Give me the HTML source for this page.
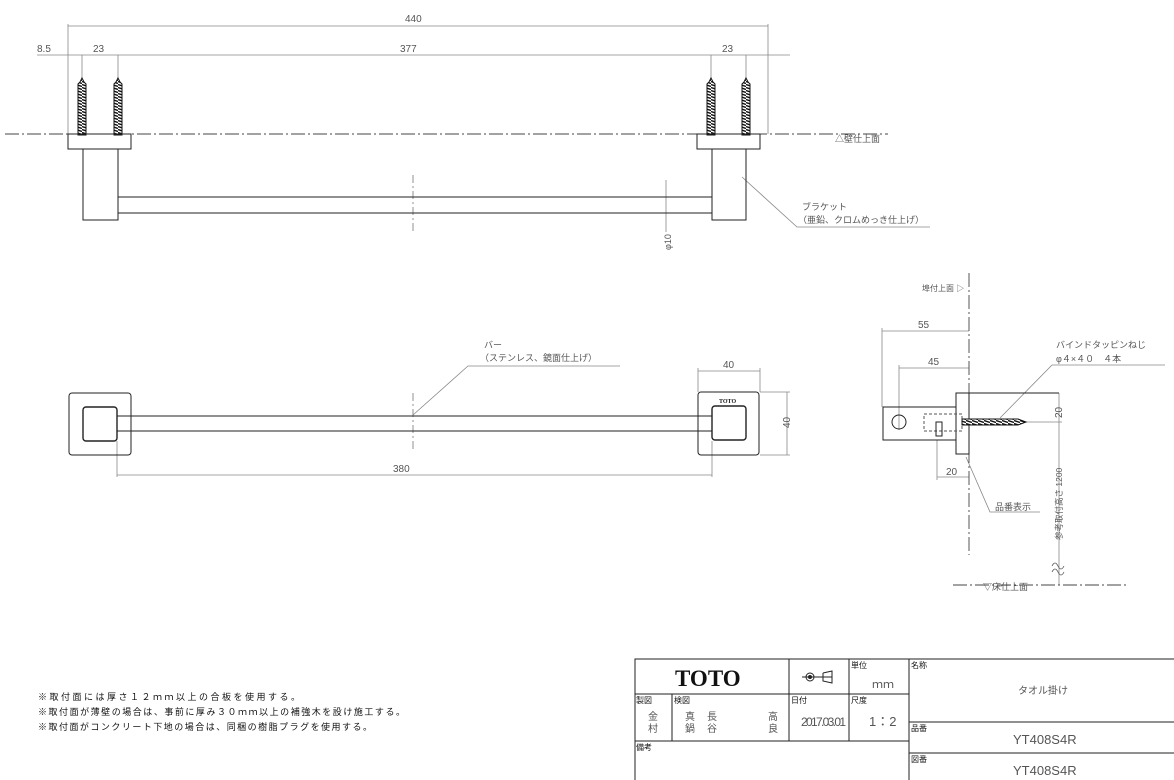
<!DOCTYPE html>
<html><head><meta charset="utf-8"><style>html,body{margin:0;padding:0;background:#fff}svg{display:block}text{font-family:"Liberation Sans","Noto Sans CJK JP",sans-serif;fill:#555}text.serif{font-family:"Liberation Serif",serif}</style></head><body>
<svg width="1174" height="780" viewBox="0 0 1174 780" xmlns="http://www.w3.org/2000/svg">
<defs>
<pattern id="thr" width="6" height="3" patternUnits="userSpaceOnUse"><rect width="6" height="3" fill="#fff"/><line x1="0" y1="0.5" x2="6" y2="2.5" stroke="#111" stroke-width="1.4"/></pattern>
<g id="screwV"><polygon points="0,0 -2,4 -4,6 -4,57 4,57 4,6 2,4" fill="url(#thr)" stroke="#111" stroke-width="1"/></g>
</defs>
<g fill="none" stroke="#888" stroke-width="0.8">
<line x1="68" y1="26" x2="768" y2="26"/><line x1="68" y1="24" x2="68" y2="134"/><line x1="768" y1="24" x2="768" y2="134"/>
<line x1="37" y1="55" x2="790" y2="55"/>
<line x1="82" y1="55" x2="82" y2="80"/><line x1="118" y1="55" x2="118" y2="80"/>
<line x1="711" y1="55" x2="711" y2="80"/><line x1="746" y1="55" x2="746" y2="80"/>
<line x1="666" y1="180" x2="666" y2="232"/>
<line x1="117" y1="475" x2="712" y2="475"/><line x1="117" y1="441" x2="117" y2="477"/><line x1="712" y1="441" x2="712" y2="477"/>
<line x1="698" y1="371" x2="760" y2="371"/><line x1="698" y1="368" x2="698" y2="392"/><line x1="760" y1="368" x2="760" y2="392"/>
<line x1="760" y1="392" x2="790" y2="392"/><line x1="760" y1="455" x2="790" y2="455"/><line x1="787" y1="392" x2="787" y2="455"/>
<polyline points="742,177 797,227 930,227"/>
<polyline points="413,415 468,366 620,366"/>
<line x1="882" y1="331" x2="969" y2="331"/><line x1="882" y1="328" x2="882" y2="407"/>
<line x1="899" y1="368" x2="969" y2="368"/><line x1="899" y1="365" x2="899" y2="430"/>
<line x1="937" y1="477" x2="969" y2="477"/><line x1="937" y1="440" x2="937" y2="480"/>
<line x1="1059" y1="393" x2="1059" y2="585"/><line x1="1025" y1="422" x2="1062" y2="422"/>
<polyline points="1000,418 1052,365 1165,365"/>
<polyline points="966,457 990,512 1040,512"/>
<path d="M1052,566 q3,-6 6,0 t6,0 M1052,572 q3,-6 6,0 t6,0" stroke="#555"/>
</g>
<g fill="#666" font-size="10">
<text x="405" y="22">440</text><text x="37" y="52">8.5</text><text x="93" y="52">23</text><text x="400" y="52">377</text><text x="722" y="52">23</text>
<text x="835" y="142" font-size="9">△壁仕上面</text>
<text x="802" y="210" font-size="9">ブラケット</text><text x="798" y="223" font-size="9">（亜鉛、クロムめっき仕上げ）</text>
<text x="671" y="250" font-size="9" transform="rotate(-90 671 250)">φ10</text>
<text x="484" y="348" font-size="9">バー</text><text x="480" y="361" font-size="9">（ステンレス、鏡面仕上げ）</text>
<text x="393" y="472">380</text><text x="723" y="368">40</text>
<text x="790" y="428" transform="rotate(-90 790 428)">40</text>
<text x="922" y="291" font-size="8">埠付上面 ▷</text>
<text x="918" y="328">55</text><text x="928" y="365">45</text><text x="946" y="475">20</text>
<text x="1056" y="348" font-size="9">バインドタッピンねじ</text>
<text x="1056" y="362" font-size="9">φ４×４０　４本</text>
<text x="995" y="510" font-size="9">品番表示</text>
<text x="1062" y="418" transform="rotate(-90 1062 418)">20</text>
<text x="1062" y="540" font-size="8.5" transform="rotate(-90 1062 540)">参考取付高さ 1200</text>
<text x="983" y="590" font-size="9">▽床仕上面</text>
</g>
<g stroke="#444" stroke-width="0.9" fill="none" stroke-dasharray="14,3,2,3">
<line x1="5" y1="134" x2="888" y2="134"/>
<line x1="969" y1="273" x2="969" y2="555"/>
<line x1="953" y1="585" x2="1128" y2="585"/>
</g>
<g stroke="#777" stroke-width="0.8" stroke-dasharray="8,3,2,3">
<line x1="413" y1="175" x2="413" y2="232"/><line x1="413" y1="393" x2="413" y2="452"/>
</g>
<use href="#screwV" x="82" y="78"/><use href="#screwV" x="118" y="78"/>
<use href="#screwV" x="711" y="78"/><use href="#screwV" x="746" y="78"/>
<g fill="none" stroke="#222" stroke-width="1">
<rect x="68" y="134" width="63" height="15"/><rect x="83" y="149" width="35" height="71"/>
<rect x="697" y="134" width="63" height="15"/><rect x="712" y="149" width="34" height="71"/>
<line x1="118" y1="197" x2="712" y2="197"/><line x1="118" y1="213" x2="712" y2="213"/>
<rect x="69" y="393" width="62" height="62" rx="3"/><rect x="83" y="407" width="34" height="34" rx="3" stroke-width="1.4"/>
<rect x="698" y="392" width="61" height="63" rx="3"/><rect x="712" y="406" width="34" height="34" rx="3" stroke-width="1.4"/>
<line x1="117" y1="416" x2="712" y2="416"/><line x1="117" y1="431" x2="712" y2="431"/>
<rect x="956" y="393" width="13" height="61"/><line x1="969" y1="393" x2="1059" y2="393"/>
<rect x="883" y="407" width="73" height="33"/>
<circle cx="899" cy="422" r="7"/>
<rect x="924" y="414" width="38" height="17" stroke-dasharray="3,2" stroke="#555"/>
<rect x="936" y="422" width="6" height="14"/>
</g>
<polygon points="962,419 1018,419 1026,422 1018,425 962,425" fill="url(#thr)" stroke="#111" stroke-width="1"/>
<text class="serif" x="719" y="403" font-size="6" font-weight="bold" style="fill:#222">TOTO</text>
<g font-size="9" fill="#111">
<text x="38" y="700" textLength="262" style="fill:#111">※取付面には厚さ１２ｍｍ以上の合板を使用する。</text>
<text x="38" y="715" textLength="367" style="fill:#111">※取付面が薄壁の場合は、事前に厚み３０ｍｍ以上の補強木を設け施工する。</text>
<text x="38" y="730" textLength="334" style="fill:#111">※取付面がコンクリート下地の場合は、同梱の樹脂プラグを使用する。</text>
</g>
<g fill="none" stroke="#222" stroke-width="1">
<rect x="635" y="659" width="545" height="125"/>
<line x1="635" y1="694" x2="909" y2="694"/><line x1="635" y1="741" x2="909" y2="741"/>
<line x1="789" y1="659" x2="789" y2="741"/><line x1="849" y1="659" x2="849" y2="741"/><line x1="909" y1="659" x2="909" y2="780"/>
<line x1="672" y1="694" x2="672" y2="741"/>
<line x1="909" y1="722" x2="1174" y2="722"/><line x1="909" y1="753" x2="1174" y2="753"/>
<circle cx="810" cy="677" r="4"/><circle cx="810" cy="677" r="1.5" fill="#222"/>
<line x1="802" y1="677" x2="832" y2="677"/><polyline points="823,673 832,671 832,683 823,681 823,673"/>
</g>
<g font-size="8">
<text class="serif" x="675" y="686" font-size="23" font-weight="bold" style="fill:#111">TOTO</text>
<text x="851" y="668" style="fill:#111">単位</text><text x="911" y="668" style="fill:#111">名称</text>
<text x="636" y="703" style="fill:#111">製図</text><text x="674" y="703" style="fill:#111">検図</text><text x="791" y="703" style="fill:#111">日付</text><text x="851" y="703" style="fill:#111">尺度</text>
<text x="636" y="750" style="fill:#111">備考</text><text x="911" y="731" style="fill:#111">品番</text><text x="911" y="762" style="fill:#111">図番</text>
</g>
<g fill="#666">
<text x="872" y="688" font-size="11">ｍｍ</text>
<text x="1018" y="694" font-size="10">タオル掛け</text>
<text x="648" y="720" font-size="10">金</text><text x="648" y="732" font-size="10">村</text>
<text x="685" y="720" font-size="10">真</text><text x="685" y="732" font-size="10">鍋</text>
<text x="707" y="720" font-size="10">長</text><text x="707" y="732" font-size="10">谷</text>
<text x="768" y="720" font-size="10">高</text><text x="768" y="732" font-size="10">良</text>
<text x="801" y="726" font-size="12" textLength="45">2017.03.01</text>
<text x="869" y="726" font-size="13">1：2</text>
<text x="1013" y="744" font-size="13">YT408S4R</text>
<text x="1013" y="775" font-size="13">YT408S4R</text>
</g>
</svg>
</body></html>
